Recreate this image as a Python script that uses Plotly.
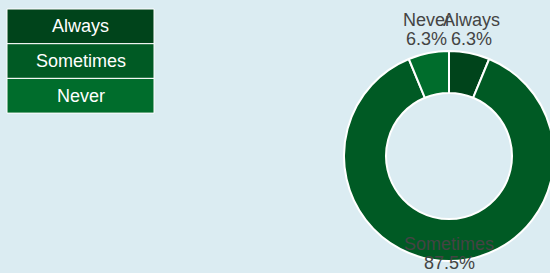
import math
import plotly.graph_objects as go

categories = ["Always", "Sometimes", "Never"]
values = [1, 14, 1]
colors = ["#00441b", "#005a24", "#006d2c"]

# Canvas (the figure is slightly wider than the window; the overflow is hidden)
W, H = 560, 273
BG = "#dbecf2"
FONT = "Arial, Liberation Sans, sans-serif"
TEXT = "#444444"

# Pie geometry (pixels)
CX, CY, R = 449, 156, 105
HOLE = 0.6
LABEL_R = 113      # radius at which the percent line's baseline sits
LINE_H = 19        # line spacing of the two-line labels
FS = 18


def px(x):
    return x / W


def py(y):
    return 1 - y / H


def fmt_pct(p):
    # round half up to one decimal (6.25 -> 6.3)
    return f"{math.floor(p * 10 + 0.5 + 1e-9) / 10:.1f}%"


fig = go.Figure()
fig.add_trace(go.Pie(
    labels=categories,
    values=values,
    sort=False,
    direction="clockwise",
    rotation=0,
    hole=HOLE,
    marker=dict(colors=colors, line=dict(color="white", width=2)),
    textinfo="none",
    showlegend=False,
    hoverinfo="label+percent",
    domain=dict(x=[px(CX - R), px(CX + R)], y=[py(CY + R), py(CY - R)]),
))

shapes = []
annotations = []

# Outside labels: label name + percent, positioned along each slice's mid angle
total = sum(values)
cum = 0
for c, v in zip(categories, values):
    mid = (cum + v / 2) / total * 2 * math.pi
    cum += v
    lx = CX + LABEL_R * math.sin(mid)
    base = CY - LABEL_R * math.cos(mid)
    pct = fmt_pct(v / total * 100)
    for txt, b in ((pct, base), (c, base - LINE_H)):
        annotations.append(dict(
            text=txt, xref="paper", yref="paper",
            x=px(lx), y=py(b + 5), xanchor="center", yanchor="bottom",
            showarrow=False, borderpad=0,
            font=dict(color=TEXT, size=FS, family=FONT)))

# Custom legend boxes
x0, x1 = 7, 154
top, bh = 9, 34.7
for i, (c, col) in enumerate(zip(categories, colors)):
    y0 = top + i * bh
    y1 = y0 + bh
    shapes.append(dict(type="rect", xref="paper", yref="paper",
                       x0=px(x0), x1=px(x1), y0=py(y1), y1=py(y0),
                       fillcolor=col, line=dict(color="white", width=1)))
    annotations.append(dict(text=c, xref="paper", yref="paper",
                            x=px((x0 + x1) / 2), y=py((y0 + y1) / 2),
                            showarrow=False, xanchor="center", yanchor="middle",
                            font=dict(color="white", size=FS, family=FONT)))

fig.update_layout(
    width=W, height=H,
    autosize=False,
    margin=dict(l=0, r=0, t=0, b=0),
    paper_bgcolor=BG, plot_bgcolor=BG,
    font=dict(family=FONT, color=TEXT),
    shapes=shapes, annotations=annotations,
)

fig.write_html(
    "out.html",
    config={"displayModeBar": False},
    post_script=("document.documentElement.style.overflow='hidden';"
                 "document.body.style.margin='0';"
                 "document.body.style.overflow='hidden';"
                 "document.body.style.background='" + BG + "';"),
)
